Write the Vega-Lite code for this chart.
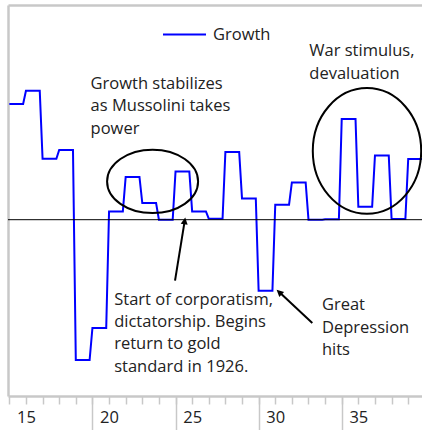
{
  "$schema": "https://vega.github.io/schema/vega-lite/v6.json",
  "width": 414,
  "height": 391,
  "autosize": {"type": "none"},
  "padding": {"left": 8, "top": 5, "right": 0, "bottom": 34},
  "background": "white",
  "config": {"view": {"stroke": null}, "font": "Open Sans"},
  "resolve": {"axis": {"x": "independent"}},
  "layer": [
    {
      "data": {"values": [
        {"x":14,"g":11.57,"series":"Growth"},{"x":14.83,"g":11.57,"series":"Growth"},
        {"x":15,"g":12.9,"series":"Growth"},{"x":15.83,"g":12.9,"series":"Growth"},
        {"x":16,"g":6.1,"series":"Growth"},{"x":16.83,"g":6.1,"series":"Growth"},
        {"x":17,"g":6.97,"series":"Growth"},{"x":17.83,"g":6.97,"series":"Growth"},
        {"x":18,"g":-14.03,"series":"Growth"},{"x":18.83,"g":-14.03,"series":"Growth"},
        {"x":19,"g":-10.83,"series":"Growth"},{"x":19.83,"g":-10.83,"series":"Growth"},
        {"x":20,"g":0.83,"series":"Growth"},{"x":20.83,"g":0.83,"series":"Growth"},
        {"x":21,"g":4.27,"series":"Growth"},{"x":21.83,"g":4.27,"series":"Growth"},
        {"x":22,"g":1.67,"series":"Growth"},{"x":22.83,"g":1.67,"series":"Growth"},
        {"x":23,"g":0,"series":"Growth"},{"x":23.83,"g":0,"series":"Growth"},
        {"x":24,"g":4.83,"series":"Growth"},{"x":24.83,"g":4.83,"series":"Growth"},
        {"x":25,"g":0.83,"series":"Growth"},{"x":25.83,"g":0.83,"series":"Growth"},
        {"x":26,"g":0.1,"series":"Growth"},{"x":26.83,"g":0.1,"series":"Growth"},
        {"x":27,"g":6.77,"series":"Growth"},{"x":27.83,"g":6.77,"series":"Growth"},
        {"x":28,"g":2.13,"series":"Growth"},{"x":28.83,"g":2.13,"series":"Growth"},
        {"x":29,"g":-7.1,"series":"Growth"},{"x":29.83,"g":-7.1,"series":"Growth"},
        {"x":30,"g":1.5,"series":"Growth"},{"x":30.83,"g":1.5,"series":"Growth"},
        {"x":31,"g":3.73,"series":"Growth"},{"x":31.83,"g":3.73,"series":"Growth"},
        {"x":32,"g":0,"series":"Growth"},{"x":32.83,"g":0,"series":"Growth"},
        {"x":33,"g":0.05,"series":"Growth"},{"x":33.83,"g":0.05,"series":"Growth"},
        {"x":34,"g":10.07,"series":"Growth"},{"x":34.83,"g":10.07,"series":"Growth"},
        {"x":35,"g":1.3,"series":"Growth"},{"x":35.83,"g":1.3,"series":"Growth"},
        {"x":36,"g":6.43,"series":"Growth"},{"x":36.83,"g":6.43,"series":"Growth"},
        {"x":37,"g":0.07,"series":"Growth"},{"x":37.83,"g":0.07,"series":"Growth"},
        {"x":38,"g":6.07,"series":"Growth"},{"x":38.83,"g":6.07,"series":"Growth"}
      ]},
      "mark": {"type": "line", "strokeWidth": 2, "clip": true},
      "encoding": {
        "x": {
          "field": "x", "type": "quantitative",
          "scale": {"domain": [13.92, 38.83], "nice": false, "zero": false},
          "axis": {
            "orient": "bottom", "title": null,
            "values": [14,15,16,17,18,19,20,21,22,23,24,25,26,27,28,29,30,31,32,33,34,35,36,37,38],
            "domain": true, "domainColor": "#c8c8c8", "domainWidth": 2.5,
            "ticks": true, "tickColor": "#c8c8c8", "tickWidth": 1.5, "tickSize": 8,
            "labels": false, "grid": false
          }
        },
        "y": {
          "field": "g", "type": "quantitative",
          "scale": {"domain": [-17.63, 21.47], "nice": false, "zero": false},
          "axis": {
            "title": null, "values": [21.47],
            "domain": true, "domainColor": "#c8c8c8", "domainWidth": 2.5,
            "ticks": false, "labels": false,
            "grid": true, "gridColor": "#c8c8c8", "gridWidth": 2.5
          }
        },
        "color": {
          "field": "series", "type": "nominal",
          "scale": {"range": ["#0000ff"]},
          "legend": {
            "orient": "none", "legendX": 154, "legendY": 7, "title": null, "padding": 0,
            "symbolType": "stroke", "symbolSize": 1849, "symbolStrokeWidth": 2,
            "labelFont": "Open Sans", "labelFontSize": 16.5, "labelColor": "#222222", "labelOffset": 6
          }
        }
      }
    },
    {
      "data": {"values": [{"z": 0}]},
      "mark": {"type": "rule", "color": "black", "strokeWidth": 1},
      "encoding": {"y": {"datum": 0, "type": "quantitative"}}
    },
    {
      "data": {"values": [{"x": 22.62, "y": 3.83}]},
      "mark": {"type": "point", "shape": "M1,0 C1,0.385 0.5523,0.697 0,0.697 C-0.5523,0.697 -1,0.385 -1,0 C-1,-0.385 -0.5523,-0.697 0,-0.697 C0.5523,-0.697 1,-0.385 1,0 Z", "size": 8281, "filled": false, "stroke": "black", "strokeWidth": 2, "opacity": 1},
      "encoding": {
        "x": {"field": "x", "type": "quantitative",
          "axis": {
            "orient": "bottom", "title": null, "values": [19, 24, 29, 34],
            "domain": false, "labels": false, "grid": false,
            "ticks": true, "tickColor": "#c8c8c8", "tickWidth": 1.5, "tickSize": 34
          }
        },
        "y": {"field": "y", "type": "quantitative"}
      }
    },
    {
      "data": {"values": [{"x": 35.52, "y": 6.88}]},
      "mark": {"type": "point", "shape": "M1,0 C1,0.64 0.5523,1.159 0,1.159 C-0.5523,1.159 -1,0.64 -1,0 C-1,-0.64 -0.5523,-1.159 0,-1.159 C0.5523,-1.159 1,-0.64 1,0 Z", "size": 11751, "filled": false, "stroke": "black", "strokeWidth": 2, "opacity": 1},
      "encoding": {
        "x": {"field": "x", "type": "quantitative",
          "axis": {
            "orient": "bottom", "title": null, "values": [15, 20, 25, 30, 35],
            "domain": false, "ticks": false, "grid": false,
            "labelFont": "Open Sans", "labelFontSize": 16.5, "labelColor": "#222222",
            "labelBaseline": "alphabetic", "labelPadding": 26,
            "labelFlush": false, "labelOverlap": false
          }
        },
        "y": {"field": "y", "type": "quantitative"}
      }
    },
    {
      "data": {"values": [
        {"x": 23.97, "y": -6.1, "x2": 24.525, "y2": -0.4},
        {"x": 32.23, "y": -10.33, "x2": 30.3, "y2": -7.34}
      ]},
      "mark": {"type": "rule", "color": "black", "strokeWidth": 2},
      "encoding": {
        "x": {"field": "x", "type": "quantitative", "axis": null},
        "y": {"field": "y", "type": "quantitative"},
        "x2": {"field": "x2"},
        "y2": {"field": "y2"}
      }
    },
    {
      "data": {"values": [{"x": 24.585, "y": 0.23}]},
      "mark": {"type": "point", "shape": "M0,0 L0.5,1 L-0.5,1 Z", "size": 196, "filled": true, "color": "black", "opacity": 1, "angle": 9},
      "encoding": {
        "x": {"field": "x", "type": "quantitative", "axis": null},
        "y": {"field": "y", "type": "quantitative"}
      }
    },
    {
      "data": {"values": [{"x": 30.08, "y": -7.0}]},
      "mark": {"type": "point", "shape": "M0,0 L0.5,1 L-0.5,1 Z", "size": 196, "filled": true, "color": "black", "opacity": 1, "angle": 313},
      "encoding": {
        "x": {"field": "x", "type": "quantitative", "axis": null},
        "y": {"field": "y", "type": "quantitative"}
      }
    },
    {
      "data": {"values": [
        {"x": 18.89, "y": 13.07, "label": "Growth stabilizes\nas Mussolini takes\npower"},
        {"x": 32.05, "y": 16.33, "label": "War stimulus,\ndevaluation"},
        {"x": 20.31, "y": -8.5, "label": "Start of corporatism,\ndictatorship. Begins\nreturn to gold\nstandard in 1926."},
        {"x": 32.81, "y": -9.07, "label": "Great\nDepression\nhits"}
      ]},
      "mark": {"type": "text", "align": "left", "baseline": "alphabetic", "lineBreak": "\n", "lineHeight": 22.3, "font": "Open Sans", "fontSize": 16.5, "color": "#222222"},
      "encoding": {
        "x": {"field": "x", "type": "quantitative", "axis": null},
        "y": {"field": "y", "type": "quantitative"},
        "text": {"field": "label"}
      }
    }
  ]
}
